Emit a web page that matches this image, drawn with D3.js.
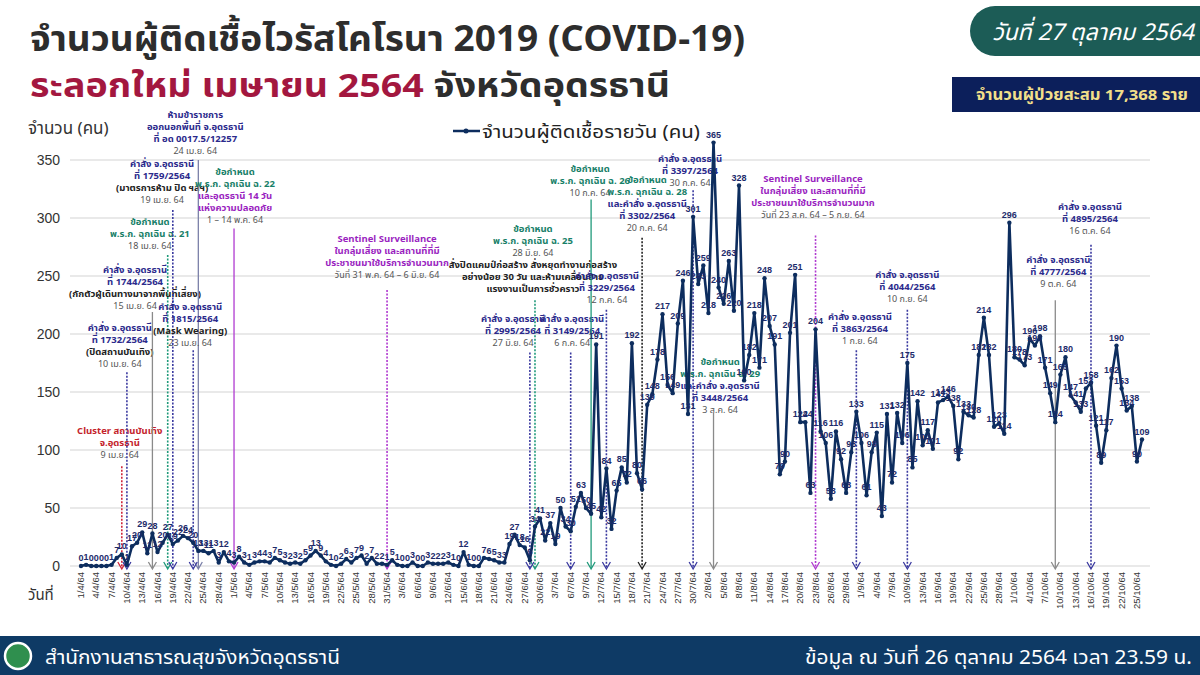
<!DOCTYPE html>
<html>
<head>
<meta charset="utf-8">
<title>COVID-19 Udon Thani</title>
<script src="https://cdn.jsdelivr.net/npm/d3@7"></script>
<style>
  body { margin: 0; background: #fff; }
  svg { font-family: "Noto Sans Thai", Tahoma, "Noto Sans", "DejaVu Sans", sans-serif; }
</style>
</head>
<body>
<svg id="chart" width="1200" height="675"></svg>
<script>
// daily new cases, 1 Apr 2021 (1/4/64) .. 26 Oct 2021 (26/10/64)
const startDate = new Date(2021, 3, 1)
const dailyCases = [
  0, 1, 0, 0, 0, 0, 1, 7, 10, 1, 17, 20, 29, 11, 28, 12, 20, 27, 19, 22,
  26, 24, 20, 13, 13, 11, 13, 3, 12, 4, 3, 8, 3, 1, 3, 4, 4, 3, 7, 5,
  3, 2, 3, 2, 5, 9, 13, 9, 4, 1, 0, 2, 6, 3, 7, 9, 2, 7, 2, 2,
  1, 5, 1, 0, 0, 3, 0, 0, 3, 2, 2, 2, 3, 1, 0, 12, 1, 0, 0, 7,
  6, 5, 3, 3, 19, 27, 18, 16, 5, 34, 41, 22, 37, 19, 50, 34, 30, 51, 63, 50,
  45, 191, 42, 84, 32, 65, 85, 72, 192, 80, 66, 139, 148, 178, 217, 156, 149, 209, 246, 131,
  301, 243, 259, 218, 365, 240, 226, 263, 220, 328, 160, 182, 218, 171, 248, 207, 191, 79, 90, 201,
  251, 124, 124, 63, 204, 116, 106, 58, 116, 92, 63, 98, 133, 106, 61, 98, 115, 43, 131, 72,
  132, 106, 175, 85, 142, 104, 117, 101, 141, 143, 146, 138, 92, 133, 130, 128, 182, 214, 182, 120,
  123, 114, 296, 180, 178, 173, 196, 190, 198, 171, 149, 124, 165, 180, 147, 141, 133, 153, 158, 121,
  89, 117, 162, 190, 153, 134, 138, 90, 109
]
const yTicks = [0, 50, 100, 150, 200, 250, 300, 350]
const tickEvery = 3

// event notes: day index of the marker, text anchor (day, value), top of the marker line
const notes = [
  { day: 8, tx: 7.6, ty: 114, top: 86, kind: "red", dash: true,
    lines: [["Cluster สถานบันเทิง", "red"], ["จ.อุดรธานี", "red"], ["9 เม.ย. 64", "date"]] },
  { day: 9, tx: 7.6, ty: 203, top: 167, kind: "order", dash: true,
    lines: [["คำสั่ง จ.อุดรธานี", "order"], ["ที่ 1732/2564", "order"], ["(ปิดสถานบันเทิง)", "black"], ["10 เม.ย. 64", "date"]] },
  { day: 14, tx: 10.6, ty: 253, top: 219, kind: "grey", dash: false,
    lines: [["คำสั่ง จ.อุดรธานี", "order"], ["ที่ 1744/2564", "order"], ["(กักตัวผู้เดินทางมาจากพื้นที่เสี่ยง)", "black"], ["15 เม.ย. 64", "date"]] },
  { day: 17, tx: 13.5, ty: 294, top: 268, kind: "decree", dash: true,
    lines: [["ข้อกำหนด", "decree"], ["พ.ร.ก. ฉุกเฉิน ฉ. 21", "decree"], ["18 เม.ย. 64", "date"]] },
  { day: 18, tx: 15.9, ty: 344, top: 307, kind: "order", dash: true,
    lines: [["คำสั่ง จ.อุดรธานี", "order"], ["ที่ 1759/2564", "order"], ["(มาตรการห้าม ปิด ฯลฯ)", "black"], ["19 เม.ย. 64", "date"]] },
  { day: 23, tx: 22.4, ty: 386, top: 350, kind: "slate", dash: false,
    lines: [["ห้ามข้าราชการ", "order"], ["ออกนอกพื้นที่ จ.อุดรธานี", "order"], ["ที่ อด 0017.5/12257", "order"], ["24 เม.ย. 64", "date"]] },
  { day: 22, tx: 21.4, ty: 221, top: 186, kind: "order", dash: true,
    lines: [["คำสั่ง จ.อุดรธานี", "order"], ["ที่ 1815/2564", "order"], ["(Mask Wearing)", "black"], ["23 เม.ย. 64", "date"]] },
  { day: 30, tx: 30.2, ty: 337, top: 291, kind: "sentinel", dash: false,
    lines: [["ข้อกำหนด", "decree"], ["พ.ร.ก. ฉุกเฉิน ฉ. 22", "decree"], ["และอุดรธานี 14 วัน", "sentinel"], ["แห่งความปลอดภัย", "sentinel"], ["1 – 14 พ.ค. 64", "date"]] },
  { day: 60, tx: 60, ty: 279, top: 238, kind: "sentinel", dash: true,
    lines: [["Sentinel Surveillance", "sentinel"], ["ในกลุ่มเสี่ยง และสถานที่ที่มี", "sentinel"], ["ประชาชนมาใช้บริการจำนวนมาก", "sentinel"], ["วันที่ 31 พ.ค. 64 – 6 มิ.ย. 64", "date"]] },
  { day: 89, tx: 88.6, ty: 288, top: 229, kind: "decree", dash: true,
    lines: [["ข้อกำหนด", "decree"], ["พ.ร.ก. ฉุกเฉิน ฉ. 25", "decree"], ["28 มิ.ย. 64", "date"], ["สั่งปิดแคมป์ก่อสร้าง สั่งหยุดทำงานก่อสร้าง", "black"], ["อย่างน้อย 30 วัน และห้ามเคลื่อนย้าย", "black"], ["แรงงานเป็นการชั่วคราว", "black"]] },
  { day: 88, tx: 84.7, ty: 210, top: 184, kind: "order", dash: true,
    lines: [["คำสั่ง จ.อุดรธานี", "order"], ["ที่ 2995/2564", "order"], ["27 มิ.ย. 64", "date"]] },
  { day: 96, tx: 96.3, ty: 210, top: 184, kind: "order", dash: true,
    lines: [["คำสั่ง จ.อุดรธานี", "order"], ["ที่ 3149/2564", "order"], ["6 ก.ค. 64", "date"]] },
  { day: 100, tx: 99.8, ty: 340, top: 316, kind: "decree", dash: false,
    lines: [["ข้อกำหนด", "decree"], ["พ.ร.ก. ฉุกเฉิน ฉ. 26", "decree"], ["10 ก.ค. 64", "date"]] },
  { day: 103, tx: 103.1, ty: 247, top: 221, kind: "order", dash: true,
    lines: [["คำสั่ง จ.อุดรธานี", "order"], ["ที่ 3229/2564", "order"], ["12 ก.ค. 64", "date"]] },
  { day: 110, tx: 111, ty: 330, top: 283, kind: "black", dash: true,
    lines: [["ข้อกำหนด", "decree"], ["พ.ร.ก. ฉุกเฉิน ฉ. 28", "decree"], ["และคำสั่ง จ.อุดรธานี", "order"], ["ที่ 3302/2564", "order"], ["20 ก.ค. 64", "date"]] },
  { day: 120, tx: 119.4, ty: 348, top: 324, kind: "order", dash: true,
    lines: [["คำสั่ง จ.อุดรธานี", "order"], ["ที่ 3397/2564", "order"], ["30 ก.ค. 64", "date"]] },
  { day: 124, tx: 125.3, ty: 173, top: 132, kind: "grey", dash: false,
    lines: [["ข้อกำหนด", "decree"], ["พ.ร.ก. ฉุกเฉิน ฉ. 29", "decree"], ["และคำสั่ง จ.อุดรธานี", "order"], ["ที่ 3448/2564", "order"], ["3 ส.ค. 64", "date"]] },
  { day: 144, tx: 143.5, ty: 331, top: 285, kind: "sentinel", dash: true,
    lines: [["Sentinel Surveillance", "sentinel"], ["ในกลุ่มเสี่ยง และสถานที่ที่มี", "sentinel"], ["ประชาชนมาใช้บริการจำนวนมาก", "sentinel"], ["วันที่ 23 ส.ค. 64 – 5 ก.ย. 64", "date"]] },
  { day: 152, tx: 152.7, ty: 212, top: 186, kind: "order", dash: true,
    lines: [["คำสั่ง จ.อุดรธานี", "order"], ["ที่ 3863/2564", "order"], ["1 ก.ย. 64", "date"]] },
  { day: 162, tx: 162, ty: 248, top: 221, kind: "order", dash: true,
    lines: [["คำสั่ง จ.อุดรธานี", "order"], ["ที่ 4044/2564", "order"], ["10 ก.ย. 64", "date"]] },
  { day: 191, tx: 191.6, ty: 261, top: 229, kind: "grey", dash: false,
    lines: [["คำสั่ง จ.อุดรธานี", "order"], ["ที่ 4777/2564", "order"], ["9 ต.ค. 64", "date"]] },
  { day: 198, tx: 197.8, ty: 307, top: 277, kind: "order", dash: true,
    lines: [["คำสั่ง จ.อุดรธานี", "order"], ["ที่ 4895/2564", "order"], ["16 ต.ค. 64", "date"]] }
]

const textColor = {
  red: "#c4232b", order: "#2b2a8c", decree: "#178068", sentinel: "#9a1fbf",
  date: "#555", black: "#222"
}
const lineColor = {
  red: "#d0263a", order: "#3b3aa0", decree: "#1f9a7a", sentinel: "#b03ad0",
  grey: "#8a8a8a", slate: "#7a7fa8", black: "#222"
}

const svg = d3.select("#chart")
const W = 1200, H = 675

// header
svg.append("text").attr("x", 30).attr("y", 51)
  .attr("font-size", 35).attr("font-weight", "bold").attr("fill", "#2d2d2d")
  .attr("textLength", 715).attr("lengthAdjust", "spacingAndGlyphs")
  .text("จำนวนผู้ติดเชื้อไวรัสโคโรนา 2019 (COVID-19)")
const sub = svg.append("text").attr("x", 30).attr("y", 97)
  .attr("font-size", 33).attr("font-weight", "bold")
  .attr("textLength", 640).attr("lengthAdjust", "spacingAndGlyphs")
sub.append("tspan").attr("fill", "#a3173f").text("ระลอกใหม่ เมษายน 2564 ")
sub.append("tspan").attr("fill", "#2d2d2d").text("จังหวัดอุดรธานี")

svg.append("path")
  .attr("d", "M1200,6 L995,6 A25,25 0 0 0 995,56 L1200,56 Z")
  .attr("fill", "#1c5c56")
svg.append("text").attr("x", 1093).attr("y", 40).attr("text-anchor", "middle")
  .attr("font-size", 23).attr("font-style", "italic").attr("fill", "#fff")
  .text("วันที่ 27 ตุลาคม 2564")
svg.append("rect").attr("x", 952).attr("y", 77).attr("width", 248).attr("height", 35)
  .attr("fill", "#0c1f5b")
svg.append("text").attr("x", 1082).attr("y", 100).attr("text-anchor", "middle")
  .attr("font-size", 15).attr("font-weight", "bold").attr("fill", "#f2df8a")
  .attr("textLength", 212).attr("lengthAdjust", "spacingAndGlyphs")
  .text("จำนวนผู้ป่วยสะสม 17,368 ราย")

// scales
const x = d3.scaleLinear().domain([0, dailyCases.length - 1]).range([81, 1142])
const y = d3.scaleLinear().domain([0, 350]).range([566, 160])

// grid
svg.append("g").selectAll("line").data(yTicks).enter().append("line")
  .attr("x1", 70).attr("x2", 1150)
  .attr("y1", d => y(d)).attr("y2", d => y(d))
  .attr("stroke", "#e2e2e2").attr("stroke-width", 1.5)

const yAxis = svg.append("g").attr("transform", "translate(66,0)")
  .call(d3.axisLeft(y).tickValues(yTicks).tickSize(0).tickPadding(6))
yAxis.select(".domain").remove()
yAxis.selectAll("text").attr("font-size", 14).attr("fill", "#333")
  .attr("font-family", "Liberation Sans, Arial, sans-serif")

svg.append("text").attr("x", 28).attr("y", 134).attr("font-size", 17).attr("fill", "#333")
  .text("จำนวน (คน)")
svg.append("text").attr("x", 28).attr("y", 600).attr("font-size", 15).attr("fill", "#333")
  .text("วันที่")

// x tick labels d/m/64
const fmt = d => d.getDate() + "/" + (d.getMonth() + 1) + "/64"
const tickDays = d3.range(0, dailyCases.length, tickEvery)
svg.append("g").selectAll("text").data(tickDays).enter().append("text")
  .attr("transform", d => `translate(${x(d) + 3},${572}) rotate(-90)`)
  .attr("text-anchor", "end")
  .attr("font-size", 9.5).attr("fill", "#333")
  .attr("font-family", "Liberation Sans, Arial, sans-serif")
  .text(d => fmt(d3.timeDay.offset(startDate, d)))

// legend
svg.append("line").attr("x1", 453).attr("x2", 480).attr("y1", 131).attr("y2", 131)
  .attr("stroke", "#0d2d5e").attr("stroke-width", 2.5)
svg.append("circle").attr("cx", 466).attr("cy", 131).attr("r", 2.5).attr("fill", "#0d2d5e")
svg.append("text").attr("x", 482).attr("y", 138).attr("font-size", 17.5)
  .attr("fill", "#222").attr("textLength", 218).attr("lengthAdjust", "spacingAndGlyphs")
  .text("จำนวนผู้ติดเชื้อรายวัน (คน)")

// event markers
const noteG = svg.append("g")
notes.forEach(n => {
  const c = lineColor[n.kind]
  noteG.append("line")
    .attr("x1", x(n.day)).attr("x2", x(n.day))
    .attr("y1", y(n.top)).attr("y2", y(0) + 2)
    .attr("stroke", c).attr("stroke-width", n.dash ? 1.6 : 1.3)
    .attr("stroke-dasharray", n.dash ? "2,1.5" : null)
  noteG.append("path")
    .attr("d", `M${x(n.day) - 4},${y(0) - 4} L${x(n.day)},${y(0) + 3} L${x(n.day) + 4},${y(0) - 4}`)
    .attr("fill", "none").attr("stroke", c).attr("stroke-width", 1.3)
  n.lines.forEach((ln, i) => {
    noteG.append("text")
      .attr("x", x(n.tx)).attr("y", y(n.ty) + i * 12)
      .attr("text-anchor", "middle")
      .attr("font-size", ln[1] === "date" ? 9 : 9.5)
      .attr("font-weight", ln[1] === "date" ? "normal" : "bold")
      .attr("fill", textColor[ln[1]])
      .text(ln[0])
  })
})

// series
const pts = dailyCases.map((v, i) => ({ i, v }))
svg.append("path").datum(pts)
  .attr("d", d3.line().x(d => x(d.i)).y(d => y(d.v)))
  .attr("fill", "none").attr("stroke", "#0d2d5e").attr("stroke-width", 2.6)
  .attr("stroke-linejoin", "round")
svg.append("g").selectAll("circle").data(pts).enter().append("circle")
  .attr("cx", d => x(d.i)).attr("cy", d => y(d.v)).attr("r", 2.2)
  .attr("fill", "#0d2d5e")
svg.append("g").selectAll("text").data(pts).enter().append("text")
  .attr("x", d => x(d.i)).attr("y", d => y(d.v) - 5)
  .attr("text-anchor", "middle").attr("font-size", 9).attr("font-weight", "bold")
  .attr("fill", "#1d2b6b")
  .attr("font-family", "Liberation Sans, Arial, sans-serif")
  .text(d => d.v)

// footer
svg.append("rect").attr("x", 0).attr("y", 636).attr("width", W).attr("height", 39)
  .attr("fill", "#0e3a65")
svg.append("circle").attr("cx", 18).attr("cy", 656).attr("r", 13)
  .attr("fill", "#2f8f4e").attr("stroke", "#fff").attr("stroke-width", 2.5)
svg.append("text").attr("x", 45).attr("y", 664).attr("font-size", 19)
  .attr("fill", "#fff").attr("textLength", 295).attr("lengthAdjust", "spacingAndGlyphs")
  .text("สำนักงานสาธารณสุขจังหวัดอุดรธานี")
svg.append("text").attr("x", 805).attr("y", 664)
  .attr("font-size", 19).attr("fill", "#fff")
  .attr("textLength", 387).attr("lengthAdjust", "spacingAndGlyphs")
  .text("ข้อมูล ณ วันที่ 26 ตุลาคม 2564 เวลา 23.59 น.")
</script>
</body>
</html>
